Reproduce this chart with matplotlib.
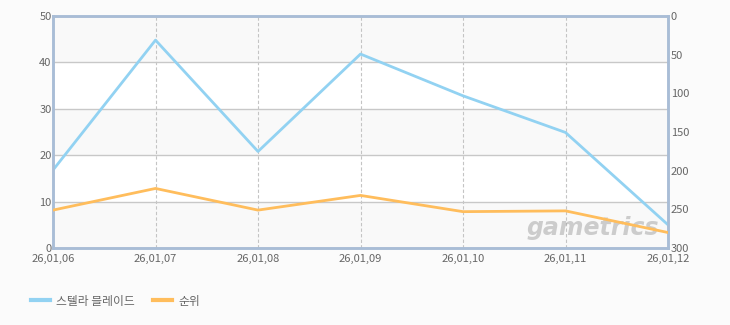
import matplotlib
matplotlib.use("Agg")
import matplotlib.pyplot as plt
from matplotlib.lines import Line2D

plt.rcParams['font.family'] = ['Noto Sans CJK KR', 'DejaVu Sans']

dates = ["26,01,06", "26,01,07", "26,01,08", "26,01,09", "26,01,10", "26,01,11", "26,01,12"]
share = [16.8, 44.8, 20.8, 41.8, 32.8, 24.9, 5.0]     # 스텔라 블레이드 (left axis)
rank = [251, 223, 251, 232, 253, 252, 280]             # 순위 (right axis, inverted)

BLUE = "#92d2f2"
ORANGE = "#ffbd5c"
SPINE = "#a9bdd6"
TXT = "#666666"

fig = plt.figure(figsize=(7.3, 3.25), dpi=100, facecolor="#fbfbfb")
ax = fig.add_axes([53 / 730, 1 - 248 / 325, 615 / 730, 232 / 325])
ax.set_facecolor("white")

x = list(range(len(dates)))

# alternating horizontal bands
for i, lo in enumerate(range(0, 50, 10)):
    if i % 2 == 0:
        ax.axhspan(lo, lo + 10, color="#f9f9f9", zorder=0, lw=0)

ax.set_xlim(0, len(dates) - 1)
ax.set_ylim(0, 50)
ax.set_yticks(range(0, 51, 10))
ax.set_xticks(x)
ax.set_xticklabels(dates)
ax.grid(axis='y', color="#c8c8c8", lw=1, ls='-', zorder=1)
ax.grid(axis='x', color="#c4c4c4", lw=0.8, ls=(0, (3, 2)), zorder=1)
ax.tick_params(axis='y', length=0, labelsize=8, labelcolor=TXT, pad=1)
ax.tick_params(axis='x', length=0, labelsize=8, labelcolor=TXT, pad=4)

ax.plot(x, share, color=BLUE, lw=2, zorder=3)

ax2 = ax.twinx()
ax2.set_ylim(300, 0)
ax2.set_yticks(range(0, 301, 50))
ax2.tick_params(length=0, labelsize=8, labelcolor=TXT, pad=2)
ax2.plot(x, rank, color=ORANGE, lw=2, zorder=3)

# bottom y labels sit a hair higher so they clear the date labels
for lab in ax.get_yticklabels()[:1] + ax2.get_yticklabels()[-1:]:
    lab.set_va('center_baseline')

for a in (ax, ax2):
    for s in a.spines.values():
        s.set_color(SPINE)
        s.set_linewidth(1.8)

# watermark
ax.text(0.985, 0.085, "gametrics", transform=ax.transAxes, ha='right', va='center',
        fontsize=17, fontweight='bold', style='italic', color="#a0a0a0", alpha=0.5,
        family='DejaVu Sans', zorder=2)

handles = [Line2D([], [], color=BLUE, lw=3), Line2D([], [], color=ORANGE, lw=3)]
fig.legend(handles, ["스텔라 블레이드", "순위"], loc='center left',
           bbox_to_anchor=(0.028, 1 - 301 / 325), ncol=2, frameon=False,
           fontsize=8.5, labelcolor=TXT, handlelength=1.6, handletextpad=0.5,
           columnspacing=1.6)

fig.savefig("out.png", dpi=100, facecolor=fig.get_facecolor())
